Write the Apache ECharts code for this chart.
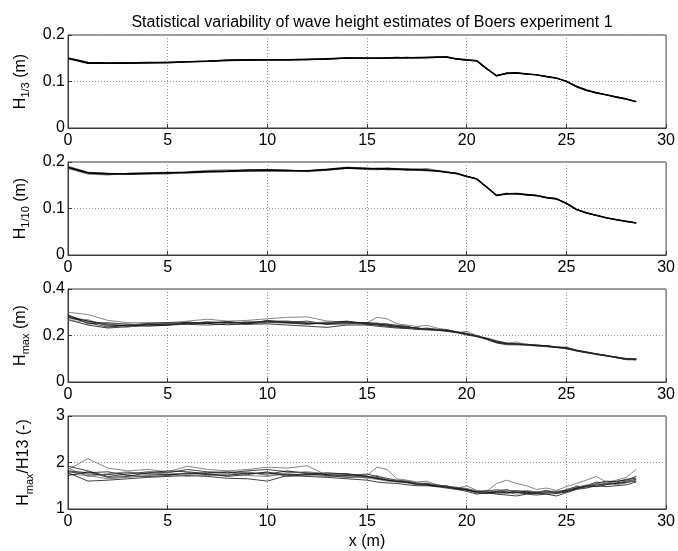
<!DOCTYPE html>
<html>
<head>
<meta charset="utf-8">
<script src="https://cdn.jsdelivr.net/npm/echarts@6/dist/echarts.min.js"></script>
<style>
  html, body { margin: 0; padding: 0; background: #fff; }
  #chart { width: 678px; height: 551px; }
</style>
</head>
<body>
<div id="chart"></div>
<script>
// positions along the flume (m)
const X = [0, 1, 2, 3, 4, 5, 6, 7, 8, 9, 10, 11, 12, 13, 14, 15, 15.5, 16, 16.5, 17, 17.5, 18, 18.5,
  19, 19.5, 20, 20.5, 21, 21.5, 22, 22.5, 23, 23.5, 24, 24.5, 25, 25.5, 26, 26.5, 27, 27.5, 28, 28.5];

// H1/3 (m), realisations almost identical
const H13_A = [0.150, 0.140, 0.139, 0.140, 0.140, 0.141, 0.142, 0.144, 0.146, 0.146, 0.147, 0.147, 0.147, 0.148, 0.151, 0.150, 0.150, 0.151, 0.151, 0.151, 0.151, 0.152, 0.152,
  0.153, 0.148, 0.146, 0.145, 0.128, 0.112, 0.118, 0.118, 0.116, 0.114, 0.111, 0.107, 0.100, 0.089, 0.081, 0.076, 0.071, 0.067, 0.062, 0.057];
const H13_B = [0.149, 0.139, 0.139, 0.139, 0.140, 0.140, 0.142, 0.143, 0.145, 0.146, 0.146, 0.147, 0.148, 0.148, 0.150, 0.150, 0.151, 0.150, 0.151, 0.152, 0.151, 0.151, 0.152,
  0.152, 0.148, 0.146, 0.144, 0.127, 0.113, 0.117, 0.118, 0.117, 0.114, 0.110, 0.107, 0.101, 0.089, 0.081, 0.075, 0.071, 0.066, 0.062, 0.056];
const H13_C = [0.151, 0.141, 0.140, 0.140, 0.141, 0.141, 0.143, 0.144, 0.146, 0.147, 0.147, 0.146, 0.147, 0.149, 0.151, 0.151, 0.150, 0.151, 0.152, 0.151, 0.152, 0.152, 0.153,
  0.153, 0.149, 0.147, 0.145, 0.128, 0.112, 0.118, 0.119, 0.116, 0.115, 0.111, 0.108, 0.100, 0.090, 0.082, 0.076, 0.072, 0.067, 0.063, 0.057];

// H1/10 (m)
const H110_A = [0.188, 0.176, 0.174, 0.175, 0.176, 0.176, 0.177, 0.179, 0.180, 0.181, 0.182, 0.181, 0.181, 0.184, 0.188, 0.186, 0.185, 0.185, 0.184, 0.184, 0.183, 0.183, 0.181,
  0.178, 0.175, 0.169, 0.164, 0.146, 0.128, 0.132, 0.132, 0.130, 0.128, 0.124, 0.121, 0.111, 0.098, 0.091, 0.085, 0.080, 0.076, 0.073, 0.069];
const H110_B = [0.191, 0.178, 0.176, 0.173, 0.174, 0.174, 0.179, 0.182, 0.183, 0.182, 0.184, 0.183, 0.179, 0.182, 0.186, 0.184, 0.183, 0.187, 0.186, 0.186, 0.185, 0.186, 0.182,
  0.179, 0.174, 0.168, 0.163, 0.145, 0.129, 0.133, 0.131, 0.130, 0.127, 0.123, 0.121, 0.110, 0.097, 0.090, 0.085, 0.080, 0.075, 0.072, 0.068];
const H110_C = [0.186, 0.174, 0.172, 0.176, 0.177, 0.178, 0.176, 0.178, 0.179, 0.180, 0.180, 0.180, 0.182, 0.185, 0.189, 0.187, 0.186, 0.183, 0.183, 0.182, 0.182, 0.181, 0.180,
  0.177, 0.175, 0.170, 0.164, 0.147, 0.127, 0.132, 0.133, 0.131, 0.128, 0.124, 0.122, 0.111, 0.098, 0.091, 0.086, 0.081, 0.076, 0.073, 0.069];
const H110_D = [0.189, 0.177, 0.175, 0.174, 0.175, 0.177, 0.178, 0.180, 0.181, 0.183, 0.183, 0.182, 0.181, 0.183, 0.187, 0.185, 0.186, 0.186, 0.185, 0.183, 0.184, 0.182, 0.181,
  0.178, 0.176, 0.169, 0.163, 0.146, 0.128, 0.131, 0.132, 0.129, 0.128, 0.123, 0.120, 0.111, 0.098, 0.090, 0.085, 0.080, 0.076, 0.072, 0.069];

// Hmax (m)
const HMAX = [
  [0.300, 0.290, 0.265, 0.255, 0.255, 0.255, 0.262, 0.270, 0.262, 0.265, 0.272, 0.278, 0.280, 0.262, 0.258, 0.255, 0.278, 0.272, 0.250, 0.245, 0.238, 0.244, 0.232,
    0.225, 0.212, 0.218, 0.200, 0.190, 0.178, 0.168, 0.172, 0.160, 0.162, 0.155, 0.152, 0.150, 0.138, 0.130, 0.122, 0.115, 0.104, 0.097, 0.100],
  [0.268, 0.245, 0.232, 0.238, 0.242, 0.245, 0.248, 0.245, 0.250, 0.248, 0.250, 0.245, 0.240, 0.235, 0.245, 0.245, 0.240, 0.236, 0.232, 0.230, 0.226, 0.224, 0.222,
    0.218, 0.212, 0.202, 0.195, 0.183, 0.168, 0.160, 0.160, 0.158, 0.155, 0.152, 0.148, 0.143, 0.133, 0.126, 0.118, 0.112, 0.105, 0.096, 0.095],
  [0.285, 0.262, 0.250, 0.240, 0.245, 0.252, 0.256, 0.252, 0.258, 0.255, 0.262, 0.262, 0.255, 0.250, 0.260, 0.252, 0.250, 0.248, 0.238, 0.238, 0.230, 0.230, 0.225,
    0.225, 0.216, 0.208, 0.196, 0.188, 0.170, 0.166, 0.162, 0.162, 0.157, 0.156, 0.149, 0.148, 0.135, 0.128, 0.121, 0.114, 0.107, 0.100, 0.098],
  [0.272, 0.268, 0.240, 0.236, 0.250, 0.248, 0.250, 0.260, 0.254, 0.258, 0.258, 0.252, 0.250, 0.254, 0.252, 0.246, 0.244, 0.242, 0.242, 0.234, 0.234, 0.226, 0.228,
    0.220, 0.217, 0.205, 0.199, 0.185, 0.174, 0.163, 0.165, 0.159, 0.159, 0.154, 0.151, 0.145, 0.137, 0.127, 0.119, 0.112, 0.106, 0.098, 0.097],
  [0.290, 0.250, 0.255, 0.248, 0.240, 0.244, 0.258, 0.252, 0.246, 0.252, 0.255, 0.256, 0.262, 0.248, 0.250, 0.256, 0.252, 0.250, 0.244, 0.240, 0.228, 0.232, 0.226,
    0.222, 0.214, 0.210, 0.197, 0.187, 0.176, 0.167, 0.161, 0.163, 0.156, 0.157, 0.150, 0.147, 0.136, 0.129, 0.120, 0.113, 0.108, 0.101, 0.099],
  [0.280, 0.255, 0.236, 0.245, 0.252, 0.255, 0.250, 0.254, 0.260, 0.250, 0.265, 0.255, 0.248, 0.256, 0.262, 0.248, 0.246, 0.240, 0.236, 0.232, 0.232, 0.226, 0.224,
    0.219, 0.213, 0.206, 0.200, 0.184, 0.170, 0.164, 0.164, 0.161, 0.158, 0.153, 0.149, 0.144, 0.135, 0.126, 0.121, 0.114, 0.105, 0.098, 0.096],
  [0.265, 0.258, 0.248, 0.250, 0.244, 0.250, 0.252, 0.258, 0.250, 0.260, 0.256, 0.260, 0.254, 0.258, 0.254, 0.250, 0.254, 0.246, 0.240, 0.237, 0.231, 0.229, 0.226,
    0.224, 0.214, 0.207, 0.198, 0.186, 0.172, 0.165, 0.162, 0.160, 0.158, 0.155, 0.151, 0.146, 0.136, 0.128, 0.120, 0.113, 0.106, 0.099, 0.098],
  [0.278, 0.262, 0.244, 0.242, 0.248, 0.246, 0.253, 0.256, 0.256, 0.254, 0.260, 0.258, 0.252, 0.250, 0.257, 0.251, 0.249, 0.244, 0.239, 0.236, 0.232, 0.227, 0.224,
    0.222, 0.215, 0.206, 0.197, 0.186, 0.172, 0.165, 0.163, 0.160, 0.157, 0.155, 0.150, 0.146, 0.136, 0.128, 0.120, 0.113, 0.106, 0.099, 0.098]
];

// Hmax/H13 (-)
const RATIO = [
  [1.85, 2.08, 1.88, 1.82, 1.85, 1.80, 1.92, 1.85, 1.82, 1.85, 1.90, 1.88, 1.93, 1.72, 1.70, 1.72, 1.90, 1.85, 1.65, 1.62, 1.58, 1.60, 1.52,
    1.48, 1.44, 1.50, 1.40, 1.38, 1.55, 1.62, 1.55, 1.50, 1.42, 1.45, 1.40, 1.48, 1.55, 1.62, 1.70, 1.58, 1.62, 1.68, 1.85],
  [1.78, 1.60, 1.62, 1.65, 1.68, 1.70, 1.72, 1.70, 1.66, 1.65, 1.60, 1.72, 1.70, 1.68, 1.65, 1.62, 1.58, 1.56, 1.55, 1.52, 1.50, 1.50, 1.48,
    1.45, 1.42, 1.38, 1.32, 1.35, 1.32, 1.30, 1.28, 1.32, 1.30, 1.32, 1.28, 1.35, 1.42, 1.45, 1.50, 1.48, 1.50, 1.52, 1.58],
  [1.92, 1.82, 1.70, 1.75, 1.80, 1.78, 1.85, 1.80, 1.78, 1.82, 1.85, 1.80, 1.78, 1.75, 1.76, 1.70, 1.68, 1.62, 1.60, 1.58, 1.54, 1.55, 1.48,
    1.50, 1.44, 1.42, 1.36, 1.40, 1.38, 1.42, 1.35, 1.38, 1.36, 1.40, 1.34, 1.42, 1.48, 1.50, 1.58, 1.55, 1.60, 1.62, 1.70],
  [1.75, 1.72, 1.65, 1.68, 1.72, 1.75, 1.70, 1.75, 1.76, 1.72, 1.70, 1.76, 1.72, 1.70, 1.73, 1.66, 1.64, 1.60, 1.58, 1.56, 1.52, 1.52, 1.50,
    1.46, 1.45, 1.40, 1.36, 1.34, 1.40, 1.36, 1.32, 1.34, 1.38, 1.34, 1.36, 1.38, 1.45, 1.52, 1.50, 1.56, 1.54, 1.58, 1.62],
  [1.82, 1.78, 1.80, 1.72, 1.70, 1.72, 1.78, 1.74, 1.72, 1.78, 1.75, 1.82, 1.76, 1.74, 1.72, 1.75, 1.70, 1.66, 1.62, 1.60, 1.56, 1.54, 1.52,
    1.49, 1.46, 1.43, 1.38, 1.37, 1.36, 1.38, 1.40, 1.36, 1.34, 1.38, 1.38, 1.40, 1.46, 1.48, 1.55, 1.60, 1.58, 1.64, 1.66],
  [1.80, 1.75, 1.74, 1.78, 1.76, 1.74, 1.76, 1.78, 1.80, 1.76, 1.78, 1.74, 1.75, 1.72, 1.68, 1.69, 1.66, 1.63, 1.60, 1.57, 1.54, 1.53, 1.50,
    1.47, 1.45, 1.41, 1.37, 1.36, 1.34, 1.35, 1.37, 1.35, 1.33, 1.36, 1.35, 1.39, 1.44, 1.47, 1.52, 1.53, 1.56, 1.60, 1.64],
  [1.88, 1.70, 1.76, 1.80, 1.74, 1.78, 1.74, 1.72, 1.74, 1.80, 1.72, 1.78, 1.80, 1.76, 1.74, 1.67, 1.72, 1.64, 1.61, 1.59, 1.55, 1.56, 1.51,
    1.48, 1.47, 1.44, 1.39, 1.38, 1.42, 1.40, 1.38, 1.40, 1.37, 1.35, 1.37, 1.36, 1.50, 1.46, 1.54, 1.58, 1.52, 1.56, 1.72],
  [1.72, 1.80, 1.68, 1.70, 1.78, 1.82, 1.80, 1.76, 1.70, 1.74, 1.80, 1.70, 1.74, 1.78, 1.75, 1.70, 1.65, 1.62, 1.59, 1.58, 1.53, 1.51, 1.49,
    1.47, 1.43, 1.41, 1.35, 1.33, 1.37, 1.34, 1.36, 1.33, 1.35, 1.32, 1.33, 1.37, 1.43, 1.50, 1.48, 1.52, 1.55, 1.57, 1.60]
];

const X_TICKS = [0, 30, 5];          // min, max, interval
const Y_RANGES = [[0, 0.2, 0.1], [0, 0.2, 0.1], [0, 0.4, 0.2], [1, 3, 1]];
const Y_NAMES = [
  '{a|H}{b|1/3}{a| (m)}',
  '{a|H}{b|1/10}{a| (m)}',
  '{a|H}{b|max}{a| (m)}',
  '{a|H}{b|max}{a|/H13 (-)}'
];

const chart = echarts.init(document.getElementById('chart'));
const FONT = 'Liberation Sans';
const BOX = '#3a3a3a';
const tops = [35, 162, 289, 416];

const grids = tops.map(t => ({
  left: 68, right: 10, top: t, height: 93,
  show: true, borderColor: BOX, borderWidth: 1, backgroundColor: '#fff'
}));

const xAxes = tops.map((t, i) => ({
  type: 'value', gridIndex: i,
  min: X_TICKS[0], max: X_TICKS[1], interval: X_TICKS[2],
  name: i === 3 ? 'x (m)' : '',
  nameLocation: 'middle', nameGap: 25,
  nameTextStyle: { color: '#000', fontFamily: FONT, fontSize: 16 },
  axisLine: { show: true, onZero: false, lineStyle: { color: BOX, width: 1 } },
  axisTick: { show: true, inside: true, length: 4, lineStyle: { color: BOX } },
  axisLabel: { color: '#000', fontFamily: FONT, fontSize: 16, margin: 5 },
  splitLine: { show: true, lineStyle: { color: '#999', type: [1, 2], width: 1 } }
}));

const yAxes = Y_RANGES.map((r, i) => ({
  type: 'value', gridIndex: i,
  min: r[0], max: r[1], interval: r[2],
  name: Y_NAMES[i], nameLocation: 'middle', nameGap: 33, nameRotate: 90,
  nameTextStyle: {
    color: '#000', fontFamily: FONT,
    rich: {
      a: { fontSize: 16, fontFamily: FONT, color: '#000', lineHeight: 22, verticalAlign: 'middle' },
      b: { fontSize: 11, fontFamily: FONT, color: '#000', lineHeight: 11, verticalAlign: 'bottom' }
    }
  },
  axisLine: { show: true, lineStyle: { color: BOX, width: 1 } },
  axisTick: { show: true, inside: true, length: 4, lineStyle: { color: BOX } },
  axisLabel: { color: '#000', fontFamily: FONT, fontSize: 16, margin: 3 },
  splitLine: { show: true, lineStyle: { color: '#999', type: [1, 2], width: 1 } }
}));

const pairs = ys => X.map((x, k) => [x, ys[k]]);
const series = [];
function addLine(idx, ys, color, width) {
  series.push({
    type: 'line', xAxisIndex: idx, yAxisIndex: idx,
    data: pairs(ys), showSymbol: false, silent: true,
    lineStyle: { color: color, width: width }
  });
}

[H13_A, H13_B, H13_C].forEach(ys => addLine(0, ys, '#000', 1.2));
[H110_B, H110_C].forEach(ys => addLine(1, ys, '#777', 1));
[H110_A, H110_D].forEach(ys => addLine(1, ys, '#000', 1.3));
HMAX.forEach((ys, k) => addLine(2, ys, k % 3 === 0 ? '#666' : '#111', 0.8));
RATIO.forEach((ys, k) => addLine(3, ys, k % 3 === 0 ? '#666' : '#111', 0.8));

option = {
  animation: false,
  backgroundColor: '#fff',
  title: {
    text: 'Statistical variability of wave height estimates of Boers experiment 1',
    left: 367, top: 10, textAlign: 'center',
    textStyle: { color: '#000', fontFamily: FONT, fontSize: 16, fontWeight: 'normal' }
  },
  grid: grids,
  xAxis: xAxes,
  yAxis: yAxes,
  series: series
};

chart.setOption(option);
</script>
</body>
</html>
